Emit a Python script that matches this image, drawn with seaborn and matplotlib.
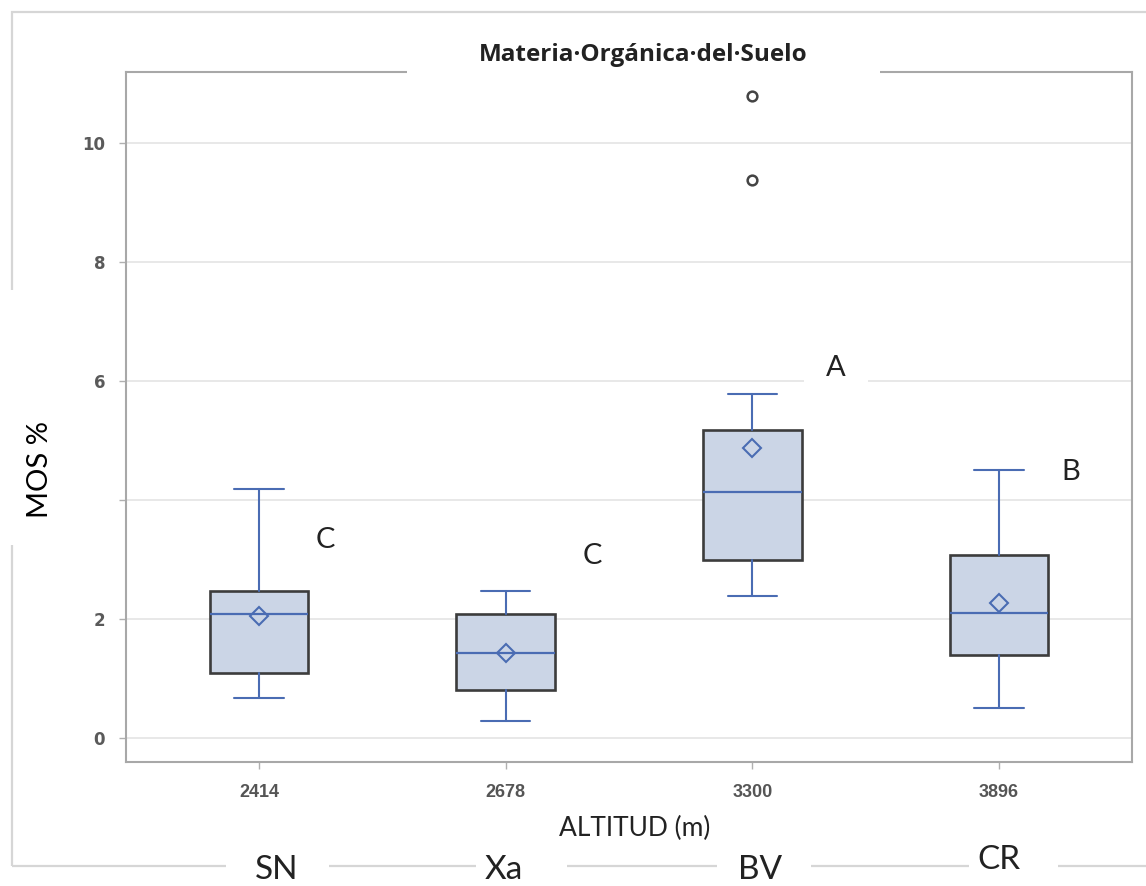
import matplotlib
matplotlib.use("Agg")
import matplotlib.pyplot as plt
import seaborn as sns
from matplotlib.patches import Rectangle

# values (MOS %)
sites = ["SN", "Xa", "BV", "CR"]
altitudes = ["2414", "2678", "3300", "3896"]
whisker_low = [0.67, 0.29, 2.39, 0.50]
q1 = [1.09, 0.81, 2.99, 1.39]
median = [2.08, 1.43, 4.13, 2.10]
q3 = [2.47, 2.08, 5.18, 3.08]
whisker_high = [4.18, 2.47, 5.78, 4.50]
means = [2.05, 1.43, 4.87, 2.27]
outliers = [[], [], [9.38, 10.79], []]
letters = ["C", "C", "A", "B"]

# annotation layout (data offsets from each box)
letter_dx = [0.27, 0.35, 0.34, 0.29]
letter_y = [3.33, 3.06, 6.22, 4.47]

W, H = 1146, 886
BLUE = "#4a6cb3"
FONT = ["Lato", "DejaVu Sans"]

sns.set_theme(style="white")
plt.rcParams["font.family"] = FONT

fig = plt.figure(figsize=(W / 100, H / 100), dpi=100)
ax = fig.add_axes([126 / W, 1 - 762 / H, (1132 - 126) / W, (762 - 72) / H])


def px_rect(x0, y0, x1, y1, **kw):
    r = Rectangle((x0 / W, 1 - y1 / H), (x1 - x0) / W, (y1 - y0) / H,
                  transform=fig.transFigure, **kw)
    fig.add_artist(r)
    return r


stats = []
for i in range(len(sites)):
    stats.append(dict(label=altitudes[i], whislo=whisker_low[i], q1=q1[i],
                      med=median[i], q3=q3[i], whishi=whisker_high[i],
                      mean=means[i], fliers=outliers[i]))

ax.bxp(stats, positions=range(len(sites)), widths=0.4, capwidths=0.2,
       patch_artist=True, showmeans=True,
       boxprops=dict(facecolor="#cbd5e6", edgecolor="#3c3c3c", linewidth=1.9),
       whiskerprops=dict(color=BLUE, linewidth=1.5),
       capprops=dict(color=BLUE, linewidth=1.5),
       medianprops=dict(color=BLUE, linewidth=1.6),
       meanprops=dict(marker="D", markerfacecolor="none", markeredgecolor=BLUE,
                      markersize=9, markeredgewidth=1.5),
       flierprops=dict(marker="o", markerfacecolor="none", markeredgecolor="#444444",
                       markersize=7, markeredgewidth=1.8))

ax.set_xlim(-0.54, 3.54)
ax.set_ylim(-0.40, 11.19)
ax.set_yticks([0, 2, 4, 6, 8, 10])
ax.set_yticklabels(["0", "2", "", "6", "8", "10"])
ax.yaxis.grid(True, color="#e6e6e6", linewidth=1.3)
ax.set_axisbelow(True)
ax.tick_params(axis="both", which="both", direction="out", length=5, width=1,
               color="#b0b0b0", left=True, bottom=True)
ax.tick_params(axis="y", pad=10)
ax.tick_params(axis="x", pad=11)
for lab in ax.get_yticklabels():
    lab.set_fontfamily(["DejaVu Sans"])
    lab.set_fontweight("bold")
    lab.set_fontsize(12)
    lab.set_color("#5a5a5a")
for lab in ax.get_xticklabels():
    lab.set_fontfamily(["Liberation Sans Narrow", "Liberation Sans", "DejaVu Sans"])
    lab.set_fontweight("bold")
    lab.set_fontsize(13)
    lab.set_color("#555555")
for s in ax.spines.values():
    s.set_color("#a8a8a8")
    s.set_linewidth(1.5)

# significance letters
for i, t in enumerate(letters):
    bb = None
    if t == "A":
        bb = dict(boxstyle="square,pad=0.75", facecolor="white", edgecolor="none")
    ax.text(i + letter_dx[i], letter_y[i], t, fontsize=21, color="#222222",
            ha="center", va="center", bbox=bb, zorder=5)

# outer frame, broken by the text boxes
px_rect(12, 12, 1200, 866, facecolor="none", edgecolor="#d6d6d6", linewidth=1.6, zorder=1)
px_rect(407, 30, 880, 82, facecolor="white", edgecolor="none", zorder=2)
px_rect(0, 290, 70, 545, facecolor="white", edgecolor="none", zorder=2)
for x0, x1 in [(226, 329), (476, 567), (717, 811), (969, 1058)]:
    px_rect(x0, 845, x1, 886, facecolor="white", edgecolor="none", zorder=2)

fig.text(643 / W, 1 - 55 / H, "Materia·Orgánica·del·Suelo", fontsize=17.5,
         fontfamily=["Open Sans", "DejaVu Sans"],
         fontweight="bold", color="#222222", ha="center", va="center", zorder=3)
fig.text(40 / W, 1 - 470 / H, "MOS %", fontsize=21, rotation=90,
         ha="center", va="center", color="black", zorder=3)
fig.text(635 / W, 1 - 828 / H, "ALTITUD (m)", fontsize=19,
         ha="center", va="center", color="#222222", zorder=3)
site_x = [277, 504, 760, 999]
site_y = [870, 870, 870, 860]
for i, s in enumerate(sites):
    fig.text(site_x[i] / W, 1 - site_y[i] / H, s, fontsize=24,
             ha="center", va="center", color="#222222", zorder=3)

fig.savefig("out.png", dpi=100)
